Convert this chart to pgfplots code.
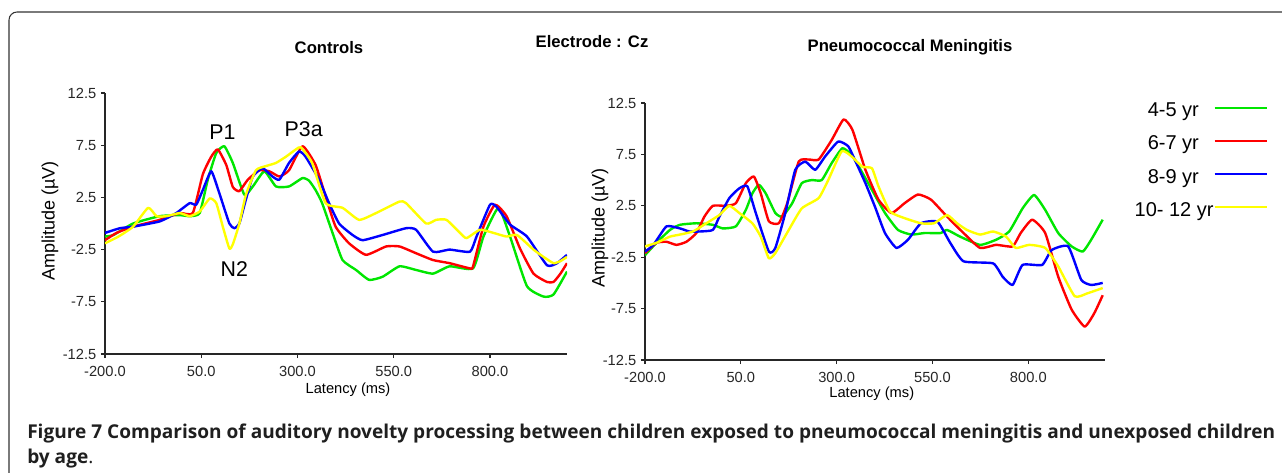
\documentclass[border=0pt]{standalone}
\usepackage{fontspec}
\setmainfont{Liberation Sans}
\newfontfamily\capfont{Open Sans}
\usepackage{pgfplots}
\pgfplotsset{compat=1.18}

\definecolor{cgreen}{RGB}{0,230,0}
\definecolor{cred}{RGB}{255,0,0}
\definecolor{cblue}{RGB}{0,0,255}
\definecolor{cyellow}{RGB}{255,255,0}

\pgfplotsset{
  erp/.style={
    scale only axis,
    xmin=-200, xmax=1000, ymin=-12.5, ymax=12.5,
    axis lines=left,
    axis line style={-, line width=1.4pt, black!85},
    xtick={-200,50,300,550,800},
    ytick={-12.5,-7.5,-2.5,2.5,7.5,12.5},
    tick align=outside,
    major tick length=3pt,
    tick style={black!85, line width=0.8pt},
    tick label style={font=\fontsize{11}{12}\selectfont, black!85},
    xticklabel style={yshift=-2.5pt},
    /pgf/number format/.cd, fixed, fixed zerofill, precision=1, assume math mode=true,
  },
  every axis plot/.append style={line width=1.8pt, line join=round, smooth, tension=0.3},
}

\begin{document}
\begin{tikzpicture}[x=0.75pt, y=0.75pt]
\useasboundingbox (0,0) rectangle (1282,472);
\clip (0,0) rectangle (1282,472);

% frame
\draw[black!80, line width=0.8pt, rounded corners=6pt] (9,-20) -- (9,460) -- (1320,460);

% titles
\node[font=\bfseries\fontsize{12.5}{13}\selectfont] at (329,424) {Controls};
\node[font=\bfseries\fontsize{12.5}{13}\selectfont] at (592,430) {Electrode : Cz};
\node[font=\bfseries\fontsize{12.5}{13}\selectfont] at (910,425) {Pneumococcal Meningitis};

% Controls
\begin{axis}[erp, at={(78.75pt,88.5pt)}, anchor=south west,
  width=346.5pt, height=195.75pt,
  xlabel={Latency (ms)}, ylabel={Amplitude (µV)},
  xlabel style={at={(axis description cs:0.526,-0.138)}, anchor=center, font=\fontsize{11}{12}\selectfont},
  ylabel style={at={(axis description cs:-0.119,0.51)}, anchor=center, rotate=0, font=\fontsize{13.5}{14}\selectfont},
]
\addplot[cgreen] coordinates {(-200,-1.25)(-178,-1.1)(-127,0.0)(-58,0.7)(-6,0.8)(20,0.7)(46,1.0)(67,4.2)(89,6.75)(110,7.4)(132,5.8)(162,2.75)(184,3.55)(214,5.0)(244,3.55)(278,3.55)(313,4.35)(330,4.1)(347,3.2)(364,1.95)(391,-0.9)(417,-3.5)(452,-4.45)(486,-5.4)(521,-5.1)(565,-4.1)(608,-4.45)(652,-4.8)(695,-4.1)(756,-4.3)(783,-1.25)(822,1.5)(852,-1.25)(896,-6.0)(939,-7.0)(965,-6.8)(1000,-4.6)};
\addplot[cred] coordinates {(-200,-1.6)(-170,-0.9)(-127,-0.3)(-58,0.35)(-6,1.0)(28,1.0)(54,4.7)(76,6.4)(93,7.1)(115,5.6)(132,3.5)(149,3.1)(171,4.2)(201,5.1)(227,5.0)(253,4.5)(278,5.1)(313,7.4)(347,5.6)(373,2.6)(399,-0.3)(434,-1.9)(478,-3.0)(530,-2.2)(565,-2.2)(608,-2.85)(652,-3.5)(695,-3.8)(748,-4.3)(756,-4.1)(783,-0.3)(813,1.8)(843,0.7)(878,-2.4)(913,-4.8)(948,-5.6)(965,-5.6)(983,-4.8)(1000,-3.8)};
\addplot[cblue] coordinates {(-200,-0.9)(-161,-0.45)(-127,-0.3)(-58,0.2)(-15,1.0)(20,1.95)(37,1.8)(54,3.2)(76,5.0)(97,2.9)(123,0.0)(136,-0.45)(149,0.0)(166,2.3)(184,4.5)(209,5.3)(235,4.5)(253,4.2)(278,5.8)(304,6.9)(321,6.4)(356,4.2)(382,1.95)(408,0.0)(443,-1.1)(469,-1.6)(521,-1.1)(582,-0.45)(608,-0.6)(652,-2.7)(695,-2.5)(748,-2.7)(765,-1.25)(800,1.8)(817,1.6)(852,-0.1)(896,-1.25)(948,-4.0)(974,-3.8)(1000,-3.0)};
\addplot[cyellow] coordinates {(-200,-1.9)(-165,-1.25)(-127,-0.3)(-88,1.5)(-66,0.7)(-40,0.7)(-6,1.0)(20,0.7)(46,1.15)(72,2.4)(89,1.95)(106,-0.3)(123,-2.4)(132,-2.0)(149,0.0)(166,2.75)(192,5.1)(218,5.5)(244,5.8)(270,6.4)(296,7.1)(309,7.3)(338,5.8)(373,1.95)(417,1.5)(460,0.35)(504,1.0)(565,2.1)(582,1.95)(634,0.0)(660,0.35)(687,0.35)(722,-0.9)(739,-1.4)(774,-0.6)(809,-0.9)(843,-1.25)(870,-1.1)(913,-2.5)(939,-3.2)(965,-3.8)(983,-3.6)(1000,-3.2)};
\node[font=\fontsize{16}{16}\selectfont] at (axis cs:105,8.76) {P1};
\node[font=\fontsize{16}{16}\selectfont] at (axis cs:316,9.05) {P3a};
\node[font=\fontsize{16}{16}\selectfont] at (axis cs:136,-4.36) {N2};
\end{axis}

% Pneumococcal Meningitis
\begin{axis}[erp, at={(483.75pt,84pt)}, anchor=south west,
  width=345pt, height=192.75pt,
  xlabel={Latency (ms)}, ylabel={Amplitude (µV)},
  xlabel style={at={(axis description cs:0.493,-0.133)}, anchor=center, font=\fontsize{11}{12}\selectfont},
  ylabel style={at={(axis description cs:-0.098,0.514)}, anchor=center, rotate=0, font=\fontsize{13.5}{14}\selectfont},
  legend plot pos=right,
  legend cell align=right,
  legend image code/.code={\draw[#1, line width=1.5pt, sharp plot] (0pt,0.35em) -- (39pt,0.35em);},
  legend style={at={(axis description cs:1.354,1.004)}, anchor=north east, draw=none, fill=none,
    inner sep=0pt, row sep=9.8pt, font=\fontsize{15}{15}\selectfont,
    nodes={inner sep=0pt, text height=11pt, text depth=4pt}},
]
\addplot[cgreen] coordinates {(-200,-2.3)(-170,-1.1)(-135,0.15)(-109,0.65)(-66,0.8)(-23,0.65)(3,0.3)(37,0.5)(63,2.1)(80,3.7)(97,4.55)(115,3.7)(140,1.8)(158,1.45)(184,2.75)(209,4.7)(235,5.0)(261,5.0)(287,6.65)(315,8.1)(339,7.45)(358,6.3)(392,4.05)(426,1.8)(460,0.15)(495,-0.3)(529,-0.15)(571,-0.15)(588,0.15)(622,-0.5)(674,-1.3)(716,-0.8)(750,0.0)(785,2.25)(815,3.55)(844,2.1)(878,-0.15)(913,-1.45)(942,-1.95)(964,-0.8)(994,1.15)};
\addlegendentry{\makebox[59pt][r]{4-5 yr\hspace{11pt}}}
\addplot[cred] coordinates {(-200,-2.1)(-170,-1.1)(-144,-1.0)(-118,-1.3)(-92,-1.0)(-66,-0.15)(-45,1.45)(-23,2.5)(11,2.5)(37,2.75)(63,4.7)(84,5.35)(102,3.7)(123,1.0)(149,0.8)(171,2.75)(201,6.8)(227,7.0)(253,7.0)(287,8.9)(318,10.9)(341,9.9)(375,6.0)(409,3.1)(443,1.8)(477,2.75)(512,3.6)(546,3.1)(588,1.45)(631,-0.15)(674,-1.6)(716,-1.3)(759,-1.45)(780,-0.15)(810,1.15)(844,-0.15)(878,-4.4)(913,-7.6)(947,-9.25)(972,-7.95)(994,-6.2)};
\addlegendentry{\makebox[59pt][r]{6-7 yr\hspace{11pt}}}
\addplot[cblue] coordinates {(-200,-1.95)(-178,-1.3)(-144,0.5)(-109,0.3)(-84,0.0)(-58,0.0)(-23,0.15)(-6,1.45)(20,3.25)(46,4.2)(67,4.4)(89,1.8)(123,-1.95)(140,-1.6)(166,1.8)(192,6.0)(218,6.8)(244,6.0)(270,7.3)(304,8.75)(330,8.3)(347,7.0)(375,4.7)(400,2.4)(426,-0.15)(456,-1.6)(486,-0.8)(520,0.8)(563,0.95)(597,-1.15)(631,-2.9)(708,-3.1)(733,-4.4)(759,-5.2)(785,-3.25)(836,-3.25)(861,-1.8)(904,-1.45)(938,-4.7)(964,-5.2)(994,-5.0)};
\addlegendentry{\makebox[59pt][r]{8-9 yr\hspace{11pt}}}
\addplot[cyellow] coordinates {(-200,-1.45)(-170,-1.1)(-135,-0.5)(-109,-0.3)(-75,0.0)(-40,0.8)(-6,1.6)(20,2.5)(46,1.8)(80,0.8)(102,-0.5)(123,-2.6)(140,-2.1)(175,0.15)(209,2.25)(253,3.25)(278,5.0)(313,7.8)(339,7.3)(367,6.3)(392,6.15)(409,4.4)(439,1.95)(477,1.3)(520,0.8)(554,0.8)(588,1.6)(614,0.8)(640,0.15)(674,-0.3)(708,0.0)(742,-0.5)(767,-1.6)(802,-1.3)(844,-1.6)(878,-3.4)(921,-6.3)(955,-6.0)(994,-5.5)};
\addlegendentry{\makebox[59pt][r]{10- 12 yr}}
\end{axis}

% caption
\node[anchor=base west, font=\capfont\bfseries\fontsize{14.3}{15}\selectfont, text=black!88, inner sep=0pt] at (27,34)
  {Figure 7 Comparison of auditory novelty processing between children exposed to pneumococcal meningitis and unexposed children};
\node[anchor=base west, font=\capfont\fontsize{14.3}{15}\selectfont, text=black!88, inner sep=0pt] at (27,9)
  {\textbf{by age}.};
\end{tikzpicture}
\end{document}
